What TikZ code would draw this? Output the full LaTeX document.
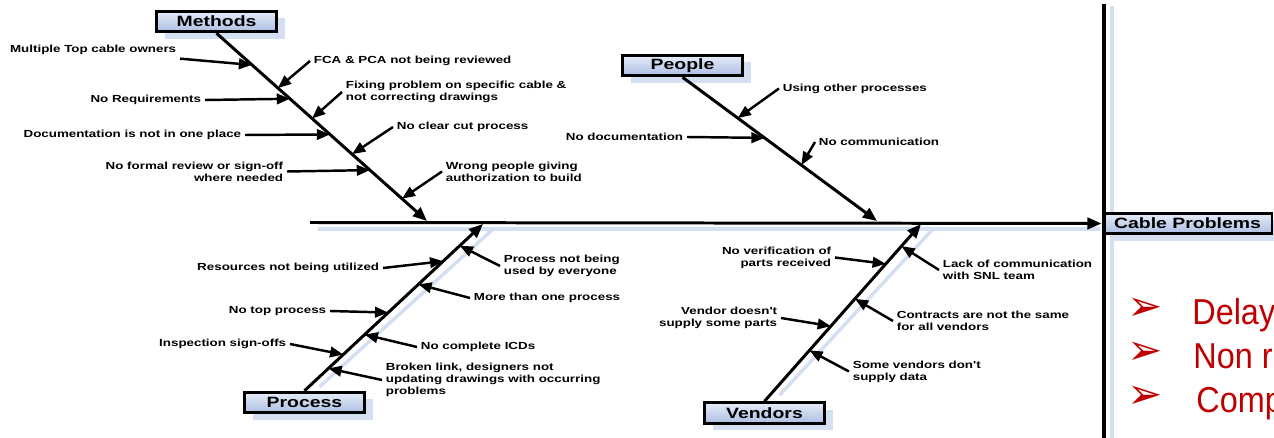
\documentclass[tikz,border=0pt]{standalone}
\usepackage{fontspec}
\usepackage{tikz}
\usetikzlibrary{arrows.meta, calc, shadows, backgrounds}
\newfontfamily\fishfont[FakeStretch=1.3]{Liberation Sans}
\newfontfamily\slidefont[FakeStretch=0.9]{Liberation Sans}
\newfontfamily\dingfont{DejaVu Sans}
\definecolor{fishshadow}{RGB}{212,223,242}
\definecolor{boxtop}{RGB}{230,236,248}
\definecolor{boxbottom}{RGB}{172,190,226}
\definecolor{slidered}{RGB}{192,0,0}

\begin{document}
\begin{tikzpicture}[
  x=0.02cm, y=-0.02cm,
  cat/.style={draw=black, line width=1.7pt, top color=boxtop, bottom color=boxbottom,
              minimum width=2.4cm, minimum height=0.41cm, inner sep=0pt,
              font=\fishfont\bfseries\fontsize{8.5}{10}\selectfont,
              drop shadow={shadow xshift=5pt, shadow yshift=-4pt, fill=fishshadow, opacity=1}},
  bone/.style={line width=1.7pt, -{Triangle[length=8pt,width=6.5pt]}},
  cause/.style={line width=1.4pt, -{Triangle[length=7.5pt,width=6pt]}},
  bshadow/.style={line width=2pt, fishshadow},
  lbl/.style={inner sep=2pt, font=\fishfont\bfseries\fontsize{5.85}{6.83}\selectfont},
  lleft/.style={lbl, anchor=east, align=right},
  lright/.style={lbl, anchor=west, align=left},
  bul/.style={slidered, inner sep=0pt, text height=0.6em, text depth=0pt,
              font=\dingfont\fontsize{24}{24}\selectfont},
  bullettext/.style={slidered, anchor=base west, inner sep=0pt,
                     font=\slidefont\fontsize{20.5}{24}\selectfont}
]
\clip (0,0) rectangle (1274,438);

% categories and effect
\node[cat] (methods) at (216.5,21.5) {Methods};
\node[cat] (people)  at (682.5,65.5) {People};
\node[cat] (process) at (304.5,402.5) {Process};
\node[cat] (vendors) at (764.5,413) {Vendors};
\fill[fishshadow] (1110,6) rectangle (1114,438);
\node[cat, minimum width=3.38cm] (cable) at (1187.5,223.5) {Cable Problems};
\draw[line width=2.8pt] (1104,4) -- (1104,438);

% bone ends on the spine
\coordinate (tail) at (310,222.5);
\coordinate (meE) at (427,221);
\coordinate (peE) at (877,221);
\coordinate (prE) at (483,224);
\coordinate (veE) at (921,224);

% shadows
\begin{scope}[on background layer]
  \draw[bshadow] (318,229) -- (1100,229);
  \draw[bshadow] ($(process.north)+(15,-4)$) -- ($(prE)+(9,6)$);
  \draw[bshadow] ($(vendors.north)+(15,-6)$) -- ($(veE)+(11,6)$);
\end{scope}

\draw[bone] (tail) -- (cable.west);
\draw[bone] (methods.south) -- (meE);
\draw[bone] (people.south) -- (peE);
\draw[bone] (process.north) -- (prE);
\draw[bone] (vendors.north) -- (veE);

% points on the bones
\foreach \n/\t in {1/0.169,2/0.292,3/0.349,4/0.454,5/0.539,6/0.644,7/0.729,8/0.881}
  \coordinate (tm\n) at ($(methods.south)!\t!(meE)$);
\foreach \n/\t in {1/0.284,2/0.422,3/0.611}
  \coordinate (tp\n) at ($(people.south)!\t!(peE)$);
\foreach \n/\t in {1/0.777,2/0.469,3/0.217,4/0.870,5/0.638,6/0.337,7/0.134}
  \coordinate (tr\n) at ($(process.north)!\t!(prE)$);
\foreach \n/\t in {1/0.775,2/0.424,3/0.875,4/0.578,5/0.287}
  \coordinate (tv\n) at ($(vendors.north)!\t!(veE)$);

% methods
\node[lleft]  (m1) at (180,50)    {Multiple Top cable owners};
\node[lright] (m2) at (310,61)    {FCA \& PCA not being reviewed};
\node[lleft]  (m3) at (205,100)   {No Requirements};
\node[lright] (m4) at (342,92)    {Fixing problem on specific cable \&\\not correcting drawings};
\node[lleft]  (m5) at (245,135)   {Documentation is not in one place};
\node[lright] (m6) at (393,127)   {No clear cut process};
\node[lleft]  (m7) at (287,171.5) {No formal review or sign-off\\where needed};
\node[lright] (m8) at (442,171.5) {Wrong people giving\\authorization to build};

% people
\node[lright] (p1) at (779,88.5)  {Using other processes};
\node[lleft]  (p2) at (687,137)   {No documentation};
\node[lright] (p3) at (815,142)   {No communication};

% process
\node[lleft]  (r1) at (383,268)   {Resources not being utilized};
\node[lleft]  (r2) at (330,311)   {No top process};
\node[lleft]  (r3) at (290,344)   {Inspection sign-offs};
\node[lright] (r4) at (500,266)   {Process not being\\used by everyone};
\node[lright] (r5) at (470,298)   {More than one process};
\node[lright] (r6) at (417,347)   {No complete ICDs};
\node[lright] (r7) at (382,380)   {Broken link, designers not\\updating drawings with occurring\\problems};

% vendors
\node[lleft]  (v1) at (835,257.5) {No verification of\\parts received};
\node[lleft]  (v2) at (781,318)   {Vendor doesn't\\supply some parts};
\node[lright] (v3) at (939,270)   {Lack of communication\\with SNL team};
\node[lright] (v4) at (893,321)   {Contracts are not the same\\for all vendors};
\node[lright] (v5) at (849,371.5) {Some vendors don't\\supply data};

\foreach \a/\b in {m1.south east/tm1, m2.west/tm2, m3.east/tm3, m4.west/tm4,
                   m5.east/tm5, m6.west/tm6, m7.east/tm7, m8.west/tm8,
                   p1.west/tp1, p2.east/tp2, p3.west/tp3,
                   r1.east/tr1, r2.east/tr2, r3.east/tr3, r4.west/tr4,
                   r5.west/tr5, r6.west/tr6, r7.west/tr7,
                   v1.east/tv1, v2.east/tv2, v3.west/tv3, v4.west/tv4, v5.west/tv5}
  \draw[cause] (\a) -- (\b);

% slide bullets (cut at the edge)
\foreach \i/\y/\x/\txt in {1/325/1192/Delay, 2/369/1193/Non r, 3/413/1196/Comp} {
  \node[bul, anchor=base] (b\i) at (1145,\y-4) {➢};
  \node[bullettext] (s\i) at (\x,\y) {\txt};
}
\end{tikzpicture}
\end{document}
